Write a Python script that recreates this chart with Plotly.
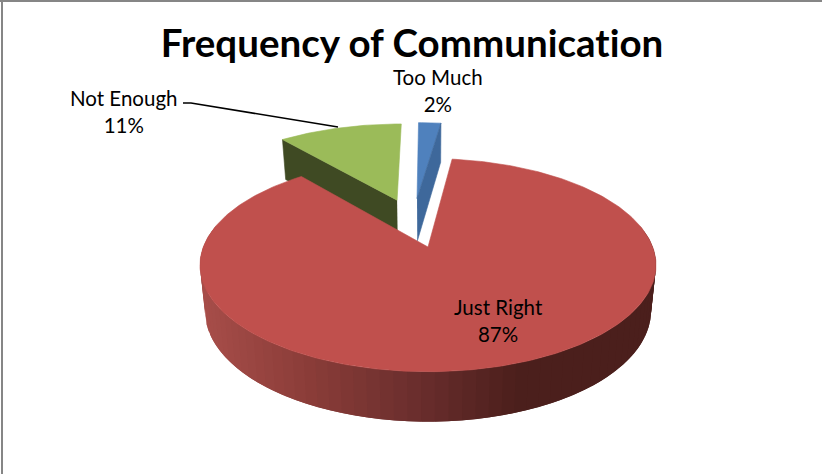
import numpy as np
import plotly.graph_objects as go

# ---- data ----
categories = ["Too Much", "Just Right", "Not Enough"]
percent_values = [2, 87, 11]
chart_title = "Frequency of Communication"

# ---- style / layout (pixel axes 822x474) ----
W, H = 822, 474
CX, CY = 428, 247
KX, KY, PERSP = 224.7, 103.5, 0.17
THICK, THICK_P, BASE_SHRINK = 45, 0.10, 0.978
explode = {"Too Much": (-0.053, 0.51), "Just Right": (0.0, 0.0), "Not Enough": (-0.149, 0.49)}
top_col = {"Too Much": "#4f81bd", "Just Right": "#c0504d", "Not Enough": "#9bbb59"}
side_col = {"Too Much": "#3e689b", "Not Enough": "#3f4a23"}
grad_x = [200, 300, 420, 520, 660]
grad_rgb = np.array([[168, 78, 74], [141, 62, 58], [106, 46, 45], [75, 31, 28], [75, 31, 28]])
label_pos = {"Too Much": (438, 90), "Just Right": (498, 320), "Not Enough": (124, 111)}
leader_x = [183, 191, 338]
leader_y = [103, 103, 127]
FONT = "Lato"


def project(X, Y, base=False):
    X, Y = np.asarray(X, float), np.asarray(Y, float)
    d = 1 + PERSP * Y
    sx = CX + KX * X / d
    sy = CY - KY * Y / d
    if base:
        sx = CX + (sx - CX) * BASE_SHRINK
        sy = sy + THICK / (1 + THICK_P * Y)
    return sx, sy


def poly(xs, ys, color, lw=0.6):
    return go.Scatter(x=list(xs), y=list(ys), mode="lines", fill="toself", fillcolor=color,
                      line=dict(color=color, width=lw), hoverinfo="skip", showlegend=False)


# slice angles, clockwise from 12 o'clock
cum = np.cumsum([0] + percent_values) / sum(percent_values) * 2 * np.pi
angles = {c: (cum[i], cum[i + 1]) for i, c in enumerate(categories)}


def wedge(cat):
    a0, a1 = angles[cat]
    ex, ey = explode[cat]
    t = np.linspace(a0, a1, max(int((a1 - a0) * 60), 8))
    X = np.r_[ex, ex + np.sin(t), ex]
    Y = np.r_[ey, ey + np.cos(t), ey]
    return project(X, Y)


def radial_face(cat, a):
    ex, ey = explode[cat]
    X = np.array([ex, ex + np.sin(a)])
    Y = np.array([ey, ey + np.cos(a)])
    tx, ty = project(X, Y)
    bx, by = project(X, Y, base=True)
    return np.r_[tx, bx[::-1]], np.r_[ty, by[::-1]]


fig = go.Figure()

# Not Enough: side then top
xs, ys = radial_face("Not Enough", angles["Not Enough"][0])
fig.add_trace(poly(xs, ys, side_col["Not Enough"]))
fig.add_trace(poly(*wedge("Not Enough"), top_col["Not Enough"]))

# Too Much: top then side
fig.add_trace(poly(*wedge("Too Much"), top_col["Too Much"]))
xs, ys = radial_face("Too Much", angles["Too Much"][1])
fig.add_trace(poly(xs, ys, side_col["Too Much"]))

# Just Right: shaded rim bands (each overlaps the next, no seams), then top
edges = np.linspace(np.deg2rad(78), np.deg2rad(282), 70)
for i in range(len(edges) - 1):
    t = np.linspace(edges[i], edges[min(i + 2, len(edges) - 1)], 6)
    X, Y = np.sin(t), np.cos(t)
    tx, ty = project(X, Y)
    bx, by = project(X, Y, base=True)
    mx = (project(np.sin(edges[i:i + 2]), np.cos(edges[i:i + 2]))[0]).mean()
    rgb = [int(np.interp(mx, grad_x, grad_rgb[:, k])) for k in range(3)]
    fig.add_trace(poly(np.r_[tx, bx[::-1]], np.r_[ty, by[::-1]], f"rgb({rgb[0]},{rgb[1]},{rgb[2]})", lw=0))
fig.add_trace(poly(*wedge("Just Right"), top_col["Just Right"]))

# leader line
fig.add_trace(go.Scatter(x=leader_x, y=leader_y, mode="lines", line=dict(color="black", width=1.6),
                         hoverinfo="skip", showlegend=False))

for cat, val in zip(categories, percent_values):
    lx, ly = label_pos[cat]
    fig.add_annotation(x=lx, y=ly, text=f"{cat}<br>{val}%", showarrow=False, xref="x", yref="y",
                       font=dict(family=FONT, size=20.5, color="black"), align="center")

fig.update_layout(
    width=W, height=H, autosize=False, margin=dict(l=0, r=0, t=0, b=0),
    paper_bgcolor="white", plot_bgcolor="white", showlegend=False,
    title=dict(text=f"<b>{chart_title}</b>", x=412 / W, xanchor="center", y=1 - 44 / H, yanchor="middle",
               font=dict(family=FONT, size=38.5, color="black")),
    xaxis=dict(range=[0, W], visible=False, fixedrange=True),
    yaxis=dict(range=[H, 0], visible=False, fixedrange=True),
    shapes=[
        dict(type="line", xref="x", yref="y", x0=0, x1=W, y0=1, y1=1, line=dict(color="#868686", width=2)),
        dict(type="line", xref="x", yref="y", x0=2, x1=2, y0=0, y1=H, line=dict(color="#868686", width=2)),
    ],
)
page_fix = ("document.body.style.margin='0';document.body.style.overflow='hidden';"
            "var s=document.createElement('style');"
            "s.textContent='svg text{font-variant-ligatures:none !important;"
            "font-feature-settings:\"liga\" 0,\"clig\" 0,\"calt\" 0 !important;letter-spacing:0.01px !important}';"
            "document.head.appendChild(s);")
fig.write_html("out.html", config={"displayModeBar": False}, post_script=page_fix)
